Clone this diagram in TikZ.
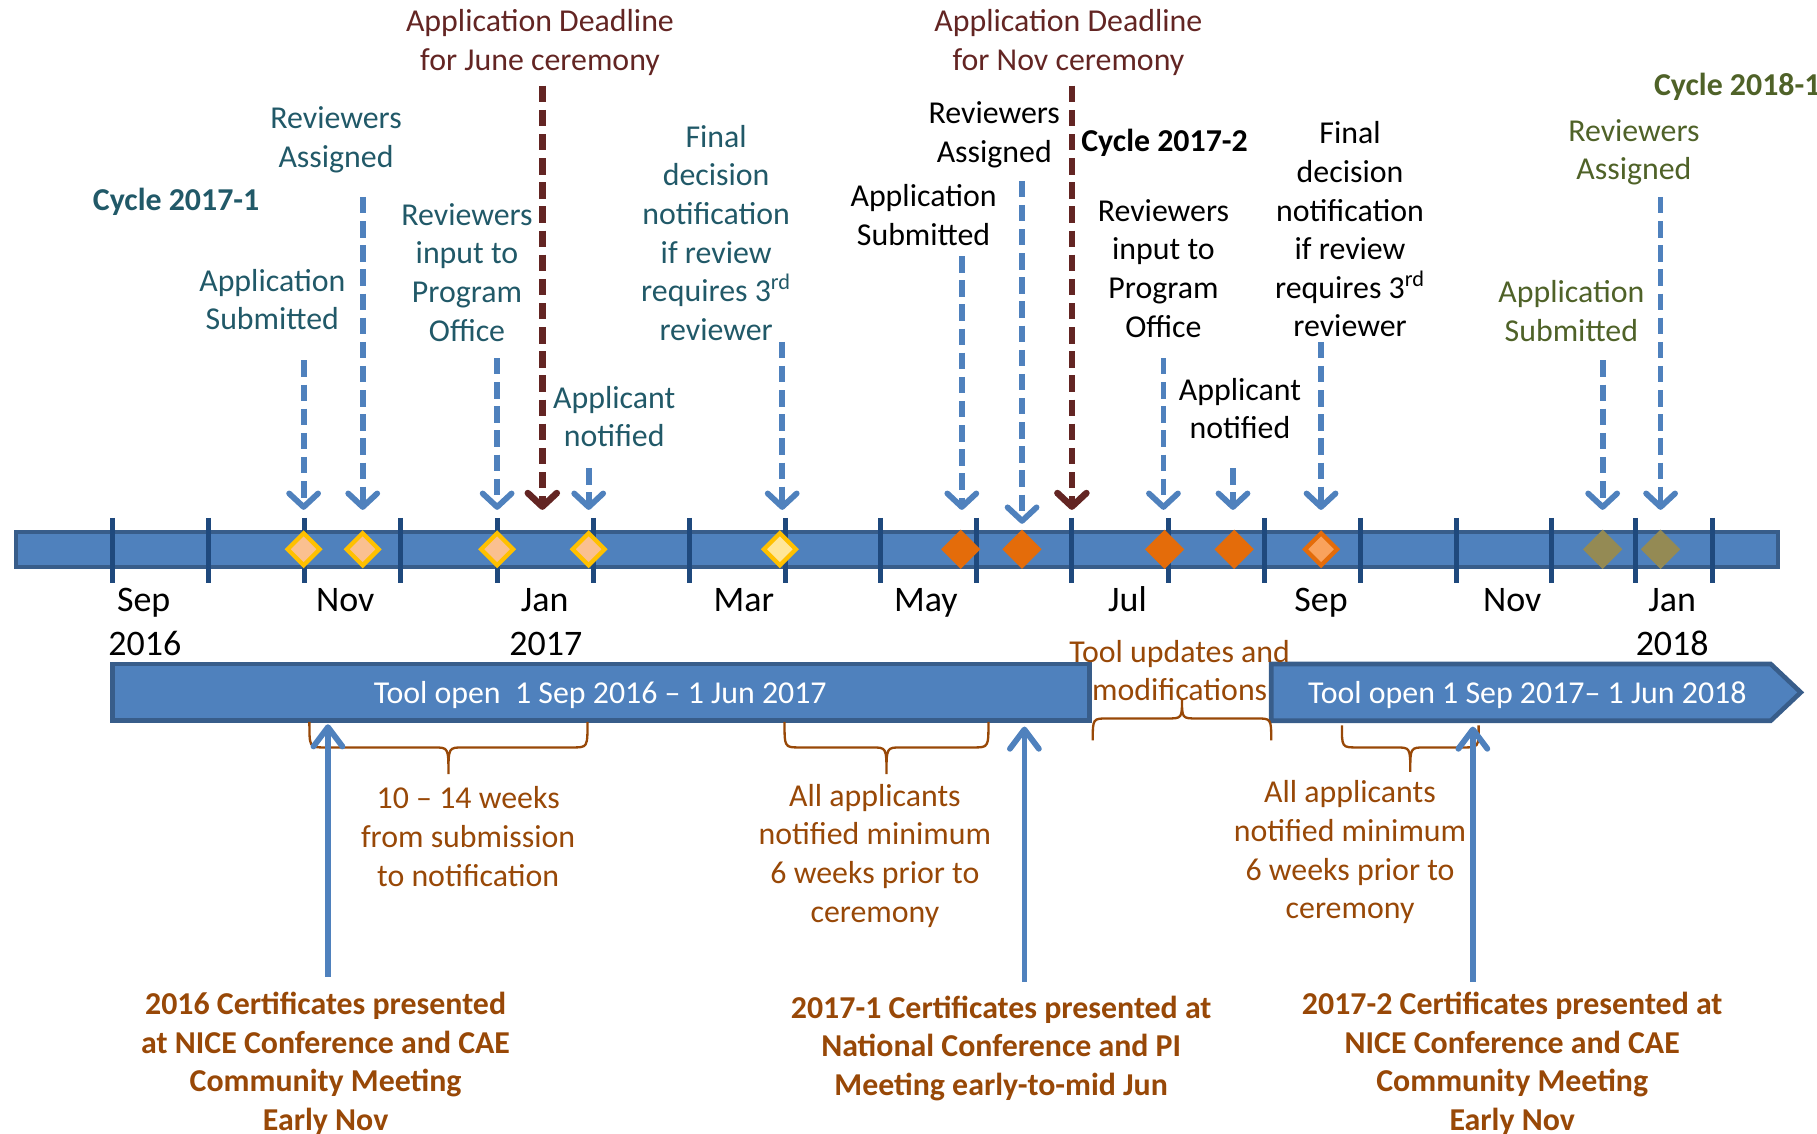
\documentclass[tikz,border=0pt]{standalone}
\usepackage{fontspec}
\setmainfont{Carlito}
\usetikzlibrary{arrows.meta, shapes.geometric}
\definecolor{barblue}{HTML}{4F81BD}
\definecolor{barline}{HTML}{385D8A}
\definecolor{tickblue}{HTML}{1F497D}
\definecolor{tealtxt}{HTML}{215968}
\definecolor{deadred}{HTML}{632523}
\definecolor{olivetxt}{HTML}{4F6228}
\definecolor{bracebrown}{HTML}{984807}
\definecolor{goldline}{HTML}{FFC000}
\definecolor{peach}{HTML}{FAC090}
\definecolor{paleyellow}{HTML}{FFE699}
\definecolor{darkorange}{HTML}{E46C0A}
\definecolor{lightorange}{HTML}{F9A25C}
\definecolor{olivefill}{HTML}{948A54}
\tikzset{
  lbl/.style={align=center, inner sep=0pt, yshift=-1.2pt, font=\fontsize{16.5}{20}\selectfont},
  bold lbl/.style={lbl, font=\fontsize{16.5}{20}\selectfont\bfseries},
  month/.style={anchor=base, inner sep=0pt, font=\fontsize{18.6}{22.8}\selectfont},
  tickmark/.style={tickblue, line width=2.6pt},
  event/.style={diamond, inner sep=0pt, minimum size=17.5pt, line width=2.2pt},
  bigevent/.style={diamond, inner sep=0pt, minimum size=20.5pt},
  ptr/.style={barblue, line width=3pt, dash pattern=on 8.5pt off 4pt,
    -{Straight Barb[round, length=7pt, width=15pt]}},
  deadline/.style={deadred, line width=3.4pt, dash pattern=on 8.5pt off 4pt,
    -{Straight Barb[round, length=7pt, width=15pt]}},
  certarrow/.style={barblue, line width=3pt, -{Straight Barb[round, length=10pt, width=15pt]}},
  curly/.style={bracebrown, line width=1.2pt},
  toolbar/.style={barline, fill=barblue, line width=2.4pt}
}
\begin{document}
\begin{tikzpicture}[x=0.6pt, y=-0.6pt]
  \useasboundingbox (0,0) rectangle (1568,978);

  \draw[barline, fill=barblue, line width=2pt] (14,459) rectangle (1534,489);
  \foreach \x in {97,180,263,346,429,512,595,677.5,760,843,925,1008,1091,1174,1257,1338.5,1411,1478}
    \draw[tickmark] (\x,447) -- (\x,503);

  \node[event, draw=goldline, fill=peach] (d1) at (262,474) {};
  \node[event, draw=goldline, fill=peach] (d2) at (313,474) {};
  \node[event, draw=goldline, fill=peach] (d3) at (429,474) {};
  \node[event, draw=goldline, fill=peach] (d4) at (508,474) {};
  \node[event, draw=goldline, fill=paleyellow] (d5) at (673,474) {};
  \node[bigevent, fill=darkorange] (d6) at (829,474) {};
  \node[bigevent, fill=darkorange] (d7) at (882,474) {};
  \node[bigevent, fill=darkorange] (d8) at (1005,474) {};
  \node[bigevent, fill=darkorange] (d9) at (1065,474) {};
  \node[event, draw=darkorange, fill=lightorange] (d10) at (1140,474) {};
  \node[bigevent, fill=olivefill] (d11) at (1383,474) {};
  \node[bigevent, fill=olivefill] (d12) at (1433,474) {};

  \node[month] (m1) at (124,528) {Sep};
  \node[month] (y1) at (125,566) {2016};
  \node[month] (m2) at (298,528) {Nov};
  \node[month] (m3) at (470,528) {Jan};
  \node[month] (y2) at (471,566) {2017};
  \node[month] (m4) at (642,528) {Mar};
  \node[month] (m5) at (799,528) {May};
  \node[month] (m6) at (973,528) {Jul};
  \node[month] (m7) at (1140,528) {Sep};
  \node[month] (m8) at (1305,528) {Nov};
  \node[month] (m9) at (1443,528) {Jan};
  \node[month] (y3) at (1443,566) {2018};

  \node[lbl, tealtxt] (rvA1) at (290,118.5) {Reviewers\\Assigned};
  \node[bold lbl, tealtxt] (cyc1) at (152,172) {Cycle 2017-1};
  \node[lbl, tealtxt] (apS1) at (235,256.5) {Application\\Submitted};
  \node[lbl, tealtxt] (rvI1) at (403,233) {Reviewers\\input to\\Program\\Office};
  \node[lbl, deadred] (dl1) at (466,34.5) {Application Deadline\\for June ceremony};
  \node[lbl, tealtxt] (apN1) at (530,357.5) {Applicant\\notified};
  \node[lbl, tealtxt] (fin1) at (618,199) {Final\\decision\\notification\\if review\\requires 3\textsuperscript{rd}\\reviewer};

  \node[lbl] (rvA2) at (858,114.5) {Reviewers\\Assigned};
  \node[lbl] (apS2) at (797,183.5) {Application\\Submitted};
  \node[lbl, deadred] (dl2) at (922,34.5) {Application Deadline\\for Nov ceremony};
  \node[bold lbl] (cyc2) at (1005,121) {Cycle 2017-2};
  \node[lbl] (rvI2) at (1004,229.5) {Reviewers\\input to\\Program\\Office};
  \node[lbl] (fin2) at (1165,196) {Final\\decision\\notification\\if review\\requires 3\textsuperscript{rd}\\reviewer};
  \node[lbl] (apN2) at (1070,350.5) {Applicant\\notified};

  \node[bold lbl, olivetxt, anchor=west] (cyc3) at (1427,73) {Cycle 2018-1};
  \node[lbl, olivetxt] (rvA3) at (1410,129.5) {Reviewers\\Assigned};
  \node[lbl, olivetxt] (apS3) at (1356,266.5) {Application\\Submitted};

  \coordinate (apS1s) at (262,311); \coordinate (apS1e) at (262,440);
  \coordinate (rvA1s) at (313,170); \coordinate (rvA1e) at (313,440);
  \coordinate (rvI1s) at (429,309); \coordinate (rvI1e) at (429,440);
  \coordinate (dl1s) at (468,74);   \coordinate (dl1e) at (468,440);
  \coordinate (apN1s) at (508,404); \coordinate (apN1e) at (508,440);
  \coordinate (fin1s) at (675,295); \coordinate (fin1e) at (675,440);
  \coordinate (apS2s) at (830,221); \coordinate (apS2e) at (830,440);
  \coordinate (rvA2s) at (882,156); \coordinate (rvA2e) at (882,452);
  \coordinate (dl2s) at (925,74);   \coordinate (dl2e) at (925,440);
  \coordinate (rvI2s) at (1004,309); \coordinate (rvI2e) at (1004,440);
  \coordinate (apN2s) at (1064,404); \coordinate (apN2e) at (1064,440);
  \coordinate (fin2s) at (1140,295); \coordinate (fin2e) at (1140,440);
  \coordinate (apS3s) at (1383,311); \coordinate (apS3e) at (1383,440);
  \coordinate (rvA3s) at (1433,170); \coordinate (rvA3e) at (1433,440);

  \draw[ptr] (apS1s) -- (apS1e);
  \draw[ptr] (rvA1s) -- (rvA1e);
  \draw[ptr] (rvI1s) -- (rvI1e);
  \draw[deadline] (dl1s) -- (dl1e);
  \draw[ptr] (apN1s) -- (apN1e);
  \draw[ptr] (fin1s) -- (fin1e);
  \draw[ptr] (apS2s) -- (apS2e);
  \draw[ptr] (rvA2s) -- (rvA2e);
  \draw[deadline] (dl2s) -- (dl2e);
  \draw[ptr] (rvI2s) -- (rvI2e);
  \draw[ptr] (apN2s) -- (apN2e);
  \draw[ptr] (fin2s) -- (fin2e);
  \draw[ptr] (apS3s) -- (apS3e);
  \draw[ptr] (rvA3s) -- (rvA3e);

  \draw[toolbar] (97,573) rectangle (940,622);
  \draw[toolbar] (1097,573) -- (1528,573) -- (1554,597.5) -- (1528,622) -- (1097,622) -- cycle;
  \node[lbl, text=white] (open1) at (518,598) {Tool open\ \ 1 Sep 2016 -- 1 Jun 2017};
  \node[lbl, text=white] (open2) at (1318,598) {Tool open 1 Sep 2017-- 1 Jun 2018};
  \node[lbl, bracebrown] (upd) at (1018,576.5) {Tool updates and\\modifications};

  \draw[curly] (267,623) .. controls (267,645) .. (280,645) -- (374,645) .. controls (387,645) .. (387,668)
    .. controls (387,645) .. (400,645) -- (494,645) .. controls (507,645) .. (507,623);
  \draw[curly] (677,623) .. controls (677,645) .. (690,645) -- (752,645) .. controls (765,645) .. (765,668)
    .. controls (765,645) .. (778,645) -- (840,645) .. controls (853,645) .. (853,623);
  \draw[curly] (943,639) .. controls (943,620) .. (956,620) -- (1007,620) .. controls (1020,620) .. (1020,603)
    .. controls (1020,620) .. (1033,620) -- (1084,620) .. controls (1097,620) .. (1097,639);
  \draw[curly] (1158,626) .. controls (1158,645) .. (1171,645) -- (1204,645) .. controls (1217,645) .. (1217,666)
    .. controls (1217,645) .. (1230,645) -- (1263,645) .. controls (1276,645) .. (1276,626);

  \node[lbl, bracebrown] (wk) at (404,720) {10 -- 14 weeks\\from submission\\to notification};
  \node[lbl, bracebrown] (all1) at (755,736.5) {All applicants\\notified minimum\\6 weeks prior to\\ceremony};
  \node[lbl, bracebrown] (all2) at (1165,733.5) {All applicants\\notified minimum\\6 weeks prior to\\ceremony};

  \node[bold lbl, bracebrown] (cert1) at (281,916) {2016 Certificates presented\\at NICE Conference and CAE\\Community Meeting\\Early Nov};
  \node[bold lbl, bracebrown] (cert2) at (864,902.5) {2017-1 Certificates presented at\\National Conference and PI\\Meeting early-to-mid Jun};
  \node[bold lbl, bracebrown] (cert3) at (1305,916) {2017-2 Certificates presented at\\NICE Conference and CAE\\Community Meeting\\Early Nov};

  \coordinate (c1s) at (283,843);  \coordinate (c1e) at (283,625);
  \coordinate (c2s) at (884,847);  \coordinate (c2e) at (884,627);
  \coordinate (c3s) at (1271,847); \coordinate (c3e) at (1271,627);
  \draw[certarrow] (c1s) -- (c1e);
  \draw[certarrow] (c2s) -- (c2e);
  \draw[certarrow] (c3s) -- (c3e);
\end{tikzpicture}
\end{document}
